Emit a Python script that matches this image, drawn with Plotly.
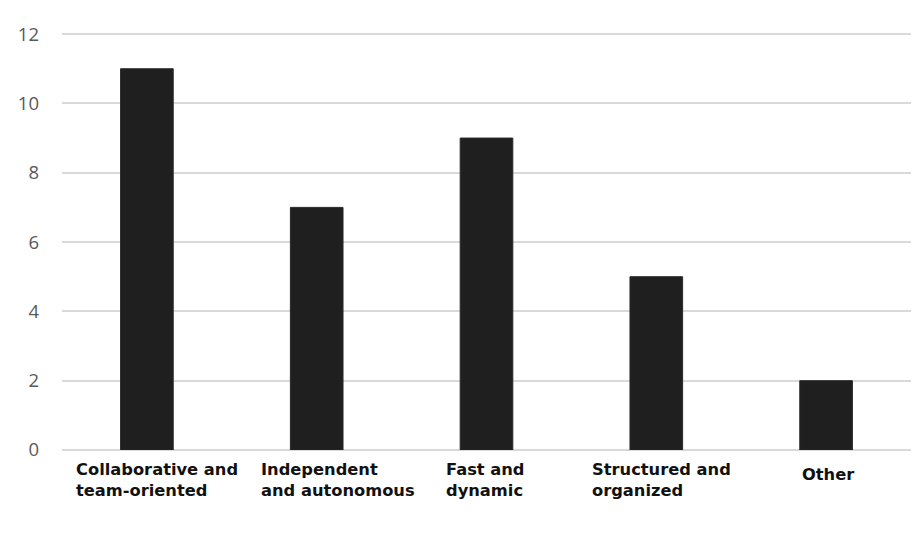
import plotly.graph_objects as go

# Survey responses: preferred work environment
categories = [
    "Collaborative and<br>team-oriented",
    "Independent<br>and autonomous",
    "Fast and<br>dynamic",
    "Structured and<br>organized",
    "Other",
]
counts = [11, 7, 9, 5, 2]
y_ticks = [0, 2, 4, 6, 8, 10, 12]

# nudges for the category captions (pixels)
label_xshift = [10, 21, -1, 5, 2]
label_yshift = [-8, -8, -8, -8, -13]

fig = go.Figure(
    go.Bar(
        x=list(range(len(categories))),
        y=counts,
        marker=dict(color="#1f1f1f", line=dict(color="#2a2a2a", width=1)),
        width=0.31,
        hoverinfo="skip",
    )
)

for i, (cat, dx, dy) in enumerate(zip(categories, label_xshift, label_yshift)):
    fig.add_annotation(
        x=i, y=0, xref="x", yref="paper",
        text=f"<b>{cat}</b>",
        showarrow=False,
        xanchor="center", yanchor="top", align="left",
        xshift=dx, yshift=dy,
        font=dict(family="DejaVu Sans", size=16.3, color="#111111"),
    )

fig.update_layout(
    width=920, height=558,
    margin=dict(l=62, r=9, t=32, b=108),
    plot_bgcolor="white", paper_bgcolor="white",
    showlegend=False,
    xaxis=dict(
        range=[-0.5, len(categories) - 0.5],
        showticklabels=False, showgrid=False, zeroline=False,
        showline=False, ticks="",
    ),
    yaxis=dict(
        range=[0, 12.06], tickvals=y_ticks,
        showgrid=True, gridcolor="#d9d9d9", gridwidth=2,
        zeroline=True, zerolinecolor="#d9d9d9", zerolinewidth=2,
        showline=False, ticks="",
        ticklabelstandoff=22,
        tickfont=dict(family="Open Sans", size=18.5, color="#595959"),
    ),
)

fig.write_html("out.html")
